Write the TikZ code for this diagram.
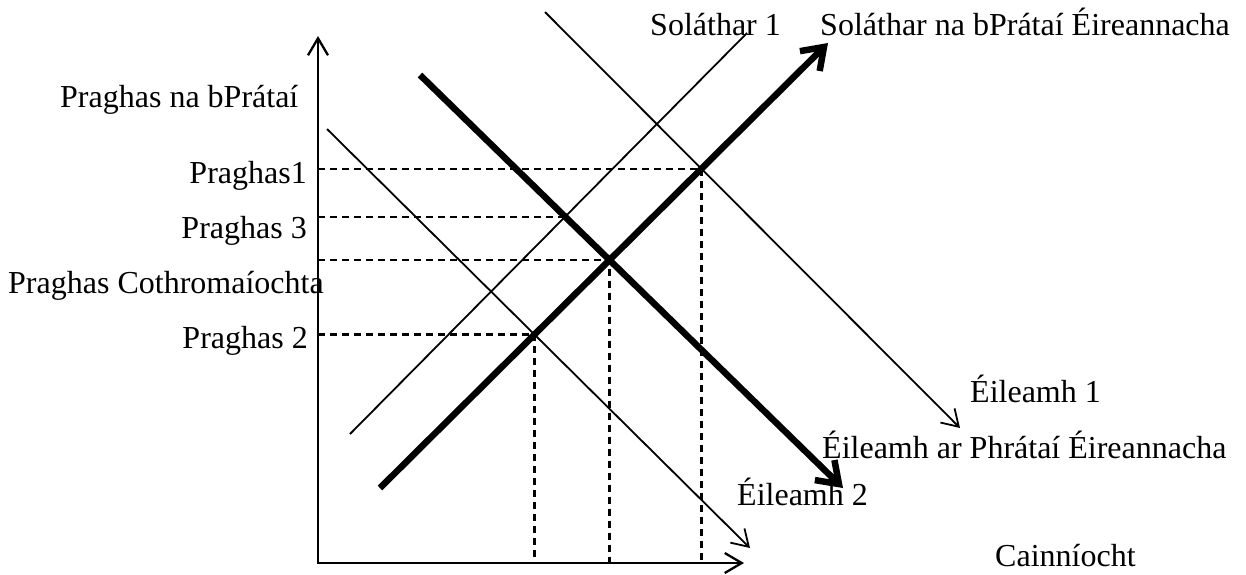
\documentclass[tikz,border=0pt]{standalone}
\usepackage{fontspec}
\setmainfont{Liberation Serif}
\usetikzlibrary{arrows.meta,intersections}
\tikzset{
  lbl/.style={font=\fontsize{32}{36}\selectfont,inner sep=0pt},
  axis-line/.style={line width=2.3pt,
    {Straight Barb[length=17pt,width=20pt]}-{Straight Barb[length=17pt,width=20pt]}},
  curve-thin/.style={line width=1.8pt},
  curve-thin-arrow/.style={line width=1.8pt,-{Straight Barb[length=16pt,width=20pt]}},
  curve-thick-arrow/.style={line width=6.5pt,-{Straight Barb[length=20pt,width=28pt]}},
  guide/.style={line width=2.3pt,dash pattern=on 7pt off 5pt},
}
\begin{document}
\begin{tikzpicture}[x=1pt,y=-1pt]
  \useasboundingbox (0,0) rectangle (1246,574);
  % axes
  \coordinate (origin) at (318,563);
  \coordinate (ytop)   at (318,36);
  \coordinate (xend)   at (744,563);
  \draw[axis-line] (ytop) -- (origin) -- (xend);
  % supply and demand lines
  \coordinate (s1-a) at (350,434);  \coordinate (s1-b) at (747,33);
  \coordinate (s-a)  at (380,488);  \coordinate (s-b)  at (828,43);
  \coordinate (d-a)  at (420,75);   \coordinate (d-b)  at (843,488);
  \coordinate (d1-a) at (545,12);   \coordinate (d1-b) at (960,428);
  \coordinate (d2-a) at (327,129);  \coordinate (d2-b) at (750,548);
  \draw[curve-thin,name path=s1]        (s1-a) -- (s1-b);
  \draw[curve-thin-arrow,name path=d1]  (d1-a) -- (d1-b);
  \draw[curve-thin-arrow,name path=d2]  (d2-a) -- (d2-b);
  \draw[curve-thick-arrow,name path=s]  (s-a) -- (s-b);
  \draw[curve-thick-arrow,name path=d]  (d-a) -- (d-b);
  % crossing points
  \path[name intersections={of=s and d1,by=p1}];
  \path[name intersections={of=s1 and d,by=p3}];
  \path[name intersections={of=s and d,by=eq}];
  \path[name intersections={of=s and d2,by=p2}];
  \draw[guide] (origin |- p1) -- (p1) -- (p1 |- origin);
  \draw[guide] (origin |- p3) -- (p3);
  \draw[guide] (origin |- eq) -- (eq) -- (eq |- origin);
  \draw[guide] (origin |- p2) -- (p2) -- (p2 |- origin);
  % labels
  \node[lbl,anchor=base west] (y-lab)  at (60,107)  {Praghas na bPrátaí};
  \node[lbl,anchor=base west] (x-lab)  at (995,566) {Cainníocht};
  \node[lbl,anchor=base west] (s1-lab) at (650,35)  {Soláthar 1};
  \node[lbl,anchor=base west] (s-lab)  at (820,35)  {Soláthar na bPrátaí Éireannacha};
  \node[lbl,anchor=base east] (p1-lab) at (307,183) {Praghas1};
  \node[lbl,anchor=base east] (p3-lab) at (307,238) {Praghas 3};
  \node[lbl,anchor=base west] (eq-lab) at (8,293)   {Praghas Cothromaíochta};
  \node[lbl,anchor=base east] (p2-lab) at (308,348) {Praghas 2};
  \node[lbl,anchor=base west] (d1-lab) at (970,402) {Éileamh 1};
  \node[lbl,anchor=base west] (d-lab)  at (822,458) {Éileamh ar Phrátaí Éireannacha};
  \node[lbl,anchor=base west] (d2-lab) at (737,505) {Éileamh 2};
\end{tikzpicture}
\end{document}
